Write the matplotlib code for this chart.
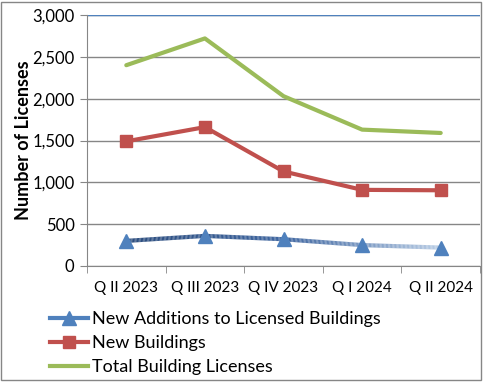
import matplotlib
matplotlib.use("Agg")
import matplotlib.pyplot as plt
import numpy as np
from matplotlib.colors import LinearSegmentedColormap
from matplotlib.lines import Line2D
from matplotlib.patches import Rectangle

categories = ["Q II 2023", "Q III 2023", "Q IV 2023", "Q I 2024", "Q II 2024"]
additions = [300, 360, 320, 250, 220]
new_buildings = [1490, 1660, 1130, 910, 905]
total = [2400, 2720, 2030, 1630, 1590]
yticks = [0, 500, 1000, 1500, 2000, 2500, 3000]

plt.rcParams['font.family'] = ['Lato', 'DejaVu Sans']

fig = plt.figure(figsize=(4.91, 3.85), dpi=100)
ax = fig.add_axes([87/491, 1-266/385, (480-87)/491, (266-15)/385])

x = np.arange(len(categories))
green = '#9BBB59'
red = '#C0504D'
blue = '#4F81BD'

ax.plot(x, total, color=green, lw=3, solid_capstyle='round', zorder=3)
ax.plot(x, new_buildings, color=red, lw=3, marker='s', ms=9, zorder=3)

# gradient line for additions
cmap = LinearSegmentedColormap.from_list('g', ['#2C4D7E', '#3F66A0', '#B9CDE5'])
n = 60
for i in range(len(x) - 1):
    xs = np.linspace(x[i], x[i+1], n + 1)
    ys = np.linspace(additions[i], additions[i+1], n + 1)
    for j in range(n):
        t = (i + j / n) / (len(x) - 1)
        ax.plot(xs[j:j+2], ys[j:j+2], color=cmap(t), lw=3, solid_capstyle='butt', zorder=3)
ax.plot(x, additions, ls='none', marker='^', ms=10, color=blue, zorder=4)

ax.set_xlim(-0.5, len(x) - 0.5)
ax.set_ylim(0, 3000)
ax.set_yticks(yticks)
ax.set_yticklabels([f"{v:,}" for v in yticks], fontsize=12)
ax.set_xticks(x)
ax.set_xticklabels(categories, fontsize=11)
ax.set_xticks(np.arange(-0.5, len(x)), minor=True)
ax.tick_params(axis='x', which='major', length=0, pad=11)
ax.tick_params(axis='x', which='minor', length=5, color='#868686', direction='out')
ax.tick_params(axis='y', length=5, color='#868686', direction='out', pad=4)
ax.grid(axis='y', color='#868686', lw=1)
ax.set_axisbelow(True)
for s in ['top', 'right']:
    ax.spines[s].set_visible(False)
for s in ['left', 'bottom']:
    ax.spines[s].set_color('#868686')
ax.axhline(3000, color='#4F81BD', lw=1, zorder=2)
ax.set_ylabel("Number of Licenses", fontsize=13, fontweight='bold', labelpad=0)

handles = [
    Line2D([], [], color='#4F81BD', lw=3, marker='^', ms=10),
    Line2D([], [], color=red, lw=3, marker='s', ms=9),
    Line2D([], [], color=green, lw=3),
]
labels = ["New Additions to Licensed Buildings", "New Buildings", "Total Building Licenses"]
fig.legend(handles, labels, loc='upper left', bbox_to_anchor=(50/491, 1-311/385),
           frameon=False, fontsize=13, handlelength=2.1, handletextpad=0.2,
           labelspacing=0.45, borderaxespad=0, borderpad=0)

fig.patches.append(Rectangle((1/491, 1-380/385), 480/491, 378/385, transform=fig.transFigure,
                             fill=False, edgecolor='#868686', lw=1))

fig.savefig("out.png", dpi=100)
